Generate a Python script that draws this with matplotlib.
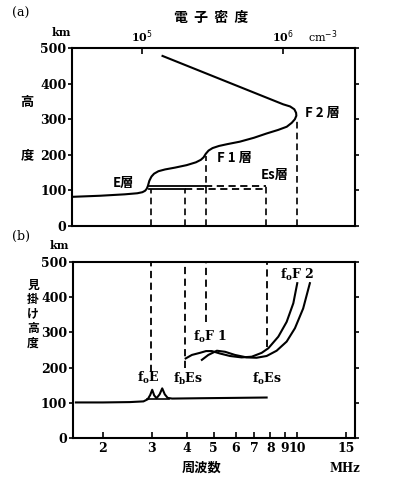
import matplotlib
matplotlib.use('Agg')
import matplotlib.pyplot as plt

# --- (a) electron density profile (density cm^-3, height km) ---
prof_density = [3.19e4, 5.0e4, 7.5e4, 9.2e4, 1.0e5, 1.045e5, 1.075e5, 1.095e5,
                1.12e5, 1.16e5, 1.21e5, 1.30e5, 1.45e5, 1.70e5, 2.06e5, 2.40e5,
                2.60e5, 2.72e5, 2.82e5, 2.95e5, 3.15e5, 3.50e5, 4.0e5, 4.92e5,
                6.2e5, 7.62e5, 9.2e5, 1.06e6, 1.15e6, 1.21e6, 1.24e6, 1.235e6,
                1.20e6, 1.12e6, 1.0e6, 1.39e5]
prof_height = [82, 85, 89, 92, 95, 99, 105, 113,
               127, 139, 147, 154, 159, 164, 171, 179,
               186, 193, 203, 212, 219, 225, 230, 237,
               248, 260, 270, 279, 290, 300, 310, 318,
               328, 336, 342, 478]

# critical densities (dashed verticals) and their top heights
crit_density = [1.16e5, 2.0e5, 2.81e5, 7.5e5, 1.26e6]
crit_top = [103, 103, 197, 112, 300]

# sporadic E slab: two levels, solid part then dashed part
es_levels = [112, 103]
es_start = 1.11e5
es_solid_end = [2.8e5, 2.0e5]
es_end = 7.5e5

# --- (b) ionogram (frequency MHz, virtual height km) ---
e_freq = [1.6, 2.0, 2.5, 2.8, 2.9, 2.96, 3.01, 3.06, 3.12, 3.2, 3.27, 3.34, 3.42,
          3.55, 4.5, 6.0, 7.76]
e_height = [101, 101, 102, 104, 110, 122, 137, 121, 113, 124, 141, 124, 114,
            112, 113, 114, 115]
es_base_freq = [2.88, 3.45]
es_base_height = [111, 111]

o_freq = [3.97, 4.18, 4.47, 4.70, 4.93, 5.28, 5.73, 6.31, 6.86, 7.45, 7.87,
          8.55, 9.16, 9.68, 10.0]
o_height = [226, 236, 242, 247, 247, 240, 233, 229, 231, 242, 255,
            288, 330, 383, 440]
x_freq = [4.54, 4.79, 5.14, 5.50, 5.97, 6.58, 7.14, 7.76, 8.43, 9.16,
          9.81, 10.5, 11.1]
x_height = [222, 236, 248, 245, 236, 229, 228, 233, 248, 274,
            312, 368, 440]

crit_freq = [2.98, 3.95, 4.70, 7.76]
crit_bottom = [188, 200, 330, 258]

freq_ticks = [2, 3, 4, 5, 6, 7, 8, 9, 10, 15]
height_ticks = [0, 100, 200, 300, 400, 500]

JP = ['Noto Sans CJK JP', 'DejaVu Sans']
SERIF = 'DejaVu Serif'
plt.rcParams['font.family'] = SERIF
plt.rcParams['axes.linewidth'] = 1.5

fig = plt.figure(figsize=(4, 4.86), dpi=100)
ax_a = fig.add_axes([0.18, 0.535, 0.7075, 0.366])
ax_b = fig.add_axes([0.182, 0.0988, 0.705, 0.362])

lw = 1.5
dash = (0, (4, 2.5))

# panel (a)
ax_a.plot(prof_density, prof_height, color='black', lw=lw)
for d, top in zip(crit_density, crit_top):
    ax_a.plot([d, d], [0, top], color='black', lw=1.2, linestyle=dash)
for lev, se in zip(es_levels, es_solid_end):
    ax_a.plot([es_start, se], [lev, lev], color='black', lw=1.3)
    ax_a.plot([se, es_end], [lev, lev], color='black', lw=1.3, linestyle=dash)

ax_a.set_xscale('log')
ax_a.set_xlim(10 ** 4.5, 10 ** 6.51)
ax_a.set_ylim(0, 500)
ax_a.xaxis.tick_top()
ax_a.set_xticks([1e5, 1e6])
ax_a.set_xticklabels([r'10$^5$', r'10$^6$'])
ax_a.minorticks_off()
ax_a.tick_params(axis='x', which='both', direction='in', length=4, width=1.2,
                 labelsize=8, pad=2)
ax_a.set_yticks(height_ticks)
ax_a.tick_params(axis='y', direction='out', length=3, width=1.2, labelsize=9,
                 pad=1, right=True)

# panel (b)
ax_b.plot(e_freq, e_height, color='black', lw=lw)
ax_b.plot(es_base_freq, es_base_height, color='black', lw=1.2)
ax_b.plot(o_freq, o_height, color='black', lw=lw)
ax_b.plot(x_freq, x_height, color='black', lw=lw)
for f, bot in zip(crit_freq, crit_bottom):
    ax_b.plot([f, f], [bot, 500], color='black', lw=1.3, linestyle=dash)

ax_b.set_xscale('log')
ax_b.set_xlim(1.56, 16.1)
ax_b.set_ylim(0, 500)
ax_b.set_xticks(freq_ticks)
ax_b.set_xticklabels([str(t) for t in freq_ticks])
ax_b.minorticks_off()
ax_b.tick_params(axis='x', which='both', direction='in', length=4, width=1.2,
                 labelsize=9, pad=3)
ax_b.set_yticks(height_ticks)
ax_b.tick_params(axis='y', direction='out', length=3, width=1.2, labelsize=9,
                 pad=1)
ax_b.tick_params(axis='y', which='major', right=True)

for ax in (ax_a, ax_b):
    for lab in ax.get_xticklabels() + ax.get_yticklabels():
        lab.set_fontweight('bold')


def ftext(x, y, s, **kw):
    # place text by pixel position in the 400x486 picture
    fig.text(x / 400, 1 - y / 486, s, ha='center', va='center', **kw)


# labels of (a)
ftext(21, 13, '(a)', fontsize=9)
ftext(211, 18, '電  子  密  度', family=JP, fontsize=10, fontweight='bold')
ftext(61, 32, 'km', fontsize=8, fontweight='bold')
ftext(323, 37, r'cm$^{-3}$', fontsize=8)
ftext(27, 102, '高', family=JP, fontsize=9.5, fontweight='bold')
ftext(27, 155, '度', family=JP, fontsize=9.5, fontweight='bold')
ftext(322, 113, 'F 2 層', family=JP, fontsize=9.5, fontweight='bold')
ftext(234, 158, 'F 1 層', family=JP, fontsize=9.5, fontweight='bold')
ftext(275, 175, 'Es層', family=JP, fontsize=9.5, fontweight='bold')
ftext(123, 183, 'E層', family=JP, fontsize=9.5, fontweight='bold')

# labels of (b)
ftext(21, 236, '(b)', fontsize=9)
ftext(59, 245, 'km', fontsize=8, fontweight='bold')
for i, ch in enumerate('見掛け高度'):
    ftext(33, 285 + i * 14.5, ch, family=JP, fontsize=8.5, fontweight='bold')
ftext(202, 468, '周波数', family=JP, fontsize=9.5, fontweight='bold')
ftext(345, 468, 'MHz', fontsize=8.5, fontweight='bold')
ftext(148, 378, r'f$_\mathregular{o}$E', fontsize=9, fontweight='bold')
ftext(188, 379, r'f$_\mathregular{b}$Es', fontsize=9, fontweight='bold')
ftext(267, 379, r'f$_\mathregular{o}$Es', fontsize=9, fontweight='bold')
ftext(210, 337, r'f$_\mathregular{o}$F 1', fontsize=9, fontweight='bold')
ftext(297, 275, r'f$_\mathregular{o}$F 2', fontsize=9, fontweight='bold')

fig.savefig('out.png', dpi=100)
